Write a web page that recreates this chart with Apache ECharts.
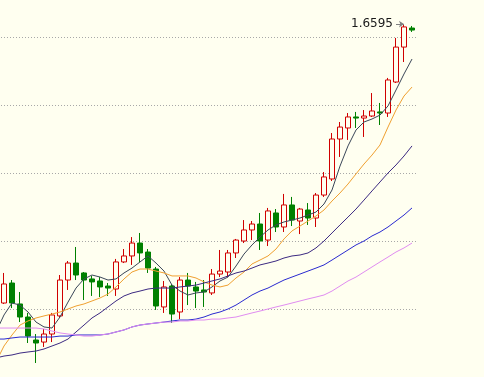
<!DOCTYPE html>
<html><head><meta charset="utf-8">
<script src="https://cdn.jsdelivr.net/npm/echarts@6/dist/echarts.min.js"></script>
<style>html,body{margin:0;padding:0;background:#fffff0;overflow:hidden;width:484px;height:377px}
#c{position:absolute;left:-8px;top:-31px;width:492px;height:408px}</style>
</head><body><div id="c"></div><script>
// categories (first one is a lead-in bar before the visible candles)
const categories = ['0','1','2','3','4','5','6','7','8','9','10','11','12','13','14','15','16','17','18','19','20','21','22','23','24','25','26','27','28','29','30','31','32','33','34','35','36','37','38','39','40','41','42','43','44','45','46','47','48','49','50','51','52'];

const opens  = [1.4544,1.4691,1.4537,1.4441,1.4272,1.4257,1.4316,1.4449,1.4713,1.4838,1.4765,1.4721,1.4706,1.4669,1.4647,1.4846,1.4890,1.4985,1.4919,1.4794,1.4515,1.4669,1.4478,1.4713,1.4662,1.4640,1.4618,1.4757,1.4772,1.4912,1.5000,1.5081,1.5125,1.5007,1.5206,1.5103,1.5265,1.5147,1.5228,1.5169,1.5338,1.5456,1.5750,1.5831,1.5912,1.5904,1.5919,1.5949,1.5941,1.6169,1.6426,1.6566];
const closes = [1.4684,1.4544,1.4441,1.4301,1.4250,1.4316,1.4456,1.4713,1.4838,1.4750,1.4713,1.4699,1.4662,1.4654,1.4846,1.4890,1.4985,1.4912,1.4801,1.4522,1.4662,1.4463,1.4713,1.4669,1.4632,1.4625,1.4757,1.4779,1.4912,1.5007,1.5081,1.5125,1.5000,1.5221,1.5103,1.5265,1.5154,1.5235,1.5169,1.5338,1.5471,1.5750,1.5838,1.5912,1.5904,1.5919,1.5956,1.5941,1.6184,1.6426,1.6574,1.6551];
const lows   = [1.4537,1.4507,1.4404,1.4250,1.4103,1.4221,1.4257,1.4434,1.4640,1.4713,1.4566,1.4596,1.4588,1.4596,1.4596,1.4838,1.4824,1.4846,1.4765,1.4493,1.4471,1.4397,1.4426,1.4529,1.4507,1.4515,1.4603,1.4735,1.4735,1.4875,1.4985,1.5007,1.4934,1.4963,1.5066,1.5066,1.5110,1.5051,1.5118,1.5103,1.5324,1.5441,1.5618,1.5743,1.5831,1.5765,1.5912,1.5853,1.5912,1.6162,1.6316,1.6537];
const highs  = [1.4765,1.4713,1.4625,1.4471,1.4316,1.4353,1.4471,1.4750,1.4853,1.4956,1.4772,1.4743,1.4735,1.4691,1.4868,1.4941,1.5029,1.5059,1.4941,1.4809,1.4706,1.4684,1.4735,1.4765,1.4699,1.4713,1.4794,1.4934,1.4934,1.5015,1.5154,1.5147,1.5206,1.5243,1.5235,1.5346,1.5324,1.5243,1.5279,1.5353,1.5507,1.5794,1.5875,1.5941,1.5949,1.5963,1.6088,1.6015,1.6199,1.6493,1.6595,1.6581];

// moving averages (53 points, including lead-in)
const maA = [1.4331,1.4456,1.4544,1.4529,1.4478,1.4404,1.4368,1.4360,1.4441,1.4551,1.4654,1.4721,1.4750,1.4735,1.4713,1.4721,1.4765,1.4801,1.4846,1.4890,1.4838,1.4779,1.4676,1.4632,1.4603,1.4618,1.4625,1.4662,1.4706,1.4735,1.4816,1.4904,1.4971,1.5029,1.5081,1.5118,1.5140,1.5154,1.5169,1.5191,1.5213,1.5272,1.5375,1.5551,1.5699,1.5816,1.5875,1.5897,1.5926,1.5993,1.6110,1.6228,1.6338];
const maB = [1.4110,1.4228,1.4309,1.4382,1.4412,1.4434,1.4449,1.4463,1.4478,1.4500,1.4522,1.4537,1.4559,1.4581,1.4610,1.4662,1.4721,1.4772,1.4794,1.4794,1.4779,1.4765,1.4743,1.4743,1.4743,1.4728,1.4699,1.4676,1.4662,1.4676,1.4728,1.4772,1.4831,1.4860,1.4890,1.4941,1.5015,1.5074,1.5110,1.5147,1.5184,1.5228,1.5294,1.5353,1.5419,1.5493,1.5566,1.5632,1.5706,1.5838,1.5963,1.6066,1.6132];
const maC = [1.4140,1.4154,1.4162,1.4176,1.4184,1.4191,1.4206,1.4228,1.4250,1.4279,1.4331,1.4382,1.4434,1.4471,1.4515,1.4559,1.4596,1.4618,1.4632,1.4647,1.4654,1.4654,1.4654,1.4662,1.4669,1.4676,1.4691,1.4706,1.4721,1.4743,1.4765,1.4779,1.4801,1.4824,1.4838,1.4853,1.4875,1.4890,1.4897,1.4912,1.4949,1.5000,1.5059,1.5118,1.5176,1.5235,1.5301,1.5368,1.5434,1.5500,1.5559,1.5625,1.5699];
const maD = [1.4279,1.4279,1.4287,1.4294,1.4294,1.4294,1.4294,1.4294,1.4301,1.4301,1.4309,1.4309,1.4309,1.4309,1.4316,1.4331,1.4346,1.4368,1.4382,1.4390,1.4397,1.4404,1.4412,1.4419,1.4419,1.4426,1.4441,1.4463,1.4478,1.4500,1.4529,1.4566,1.4603,1.4632,1.4654,1.4684,1.4713,1.4735,1.4757,1.4779,1.4801,1.4824,1.4860,1.4897,1.4934,1.4971,1.5000,1.5037,1.5066,1.5103,1.5147,1.5191,1.5243];
const maE = [1.4360,1.4360,1.4360,1.4360,1.4360,1.4360,1.4353,1.4338,1.4324,1.4316,1.4309,1.4301,1.4301,1.4309,1.4316,1.4331,1.4346,1.4368,1.4382,1.4390,1.4397,1.4404,1.4404,1.4412,1.4412,1.4419,1.4419,1.4426,1.4426,1.4434,1.4441,1.4456,1.4471,1.4485,1.4500,1.4515,1.4529,1.4544,1.4559,1.4574,1.4588,1.4603,1.4632,1.4669,1.4706,1.4735,1.4772,1.4809,1.4846,1.4882,1.4919,1.4949,1.4985];

const yTicks = {min: 1.40, max: 1.70, interval: 0.05};

const candleData = [['-','-','-','-']].concat(opens.map((o, i) => [o, closes[i], lows[i], highs[i]]));
let maxI = 0;
highs.forEach((h, i) => { if (h > highs[maxI]) maxI = i; });
const maxVal = highs[maxI];
const maxCat = maxI + 1;

const chart = echarts.init(document.getElementById('c'), null, {renderer: 'canvas'});
function ma(data, color) {
  return {type: 'line', data: data, symbol: 'none', silent: true, z: 3,
    lineStyle: {color: color, width: 1}, animation: false};
}
chart.setOption({
  backgroundColor: '#fffff0',
  animation: false,
  grid: {left: 0, right: 68, top: 0, bottom: 0},
  xAxis: {type: 'category', data: categories, show: false, boundaryGap: true},
  yAxis: {type: 'value', min: yTicks.min, max: yTicks.max, interval: yTicks.interval,
    axisLine: {show: false}, axisTick: {show: false}, axisLabel: {show: false},
    splitLine: {show: true, lineStyle: {color: '#a8a8a8', type: [1, 2], width: 1}}},
  series: [
    {type: 'candlestick', data: candleData, barWidth: 6, z: 2,
      itemStyle: {color: '#fffff0', color0: '#008000', borderColor: '#d00000', borderColor0: '#008000', borderWidth: 1},
      markLine: {silent: true, symbol: ['none', 'arrow'], symbolSize: 5,
        lineStyle: {color: '#808080', width: 1, type: 'solid'},
        label: {show: true, position: 'start', distance: 3, color: '#1a1a1a', fontSize: 12,
          fontFamily: 'DejaVu Sans', formatter: () => maxVal.toFixed(4)},
        data: [[{coord: [maxCat - 1, maxVal]}, {coord: [maxCat, maxVal]}]]}
    },
    ma(maA, '#3a4658'),
    ma(maB, '#f0a030'),
    ma(maC, '#3c2a82'),
    ma(maD, '#2a2ad0'),
    ma(maE, '#e08cf0')
  ]
});
</script></body></html>
